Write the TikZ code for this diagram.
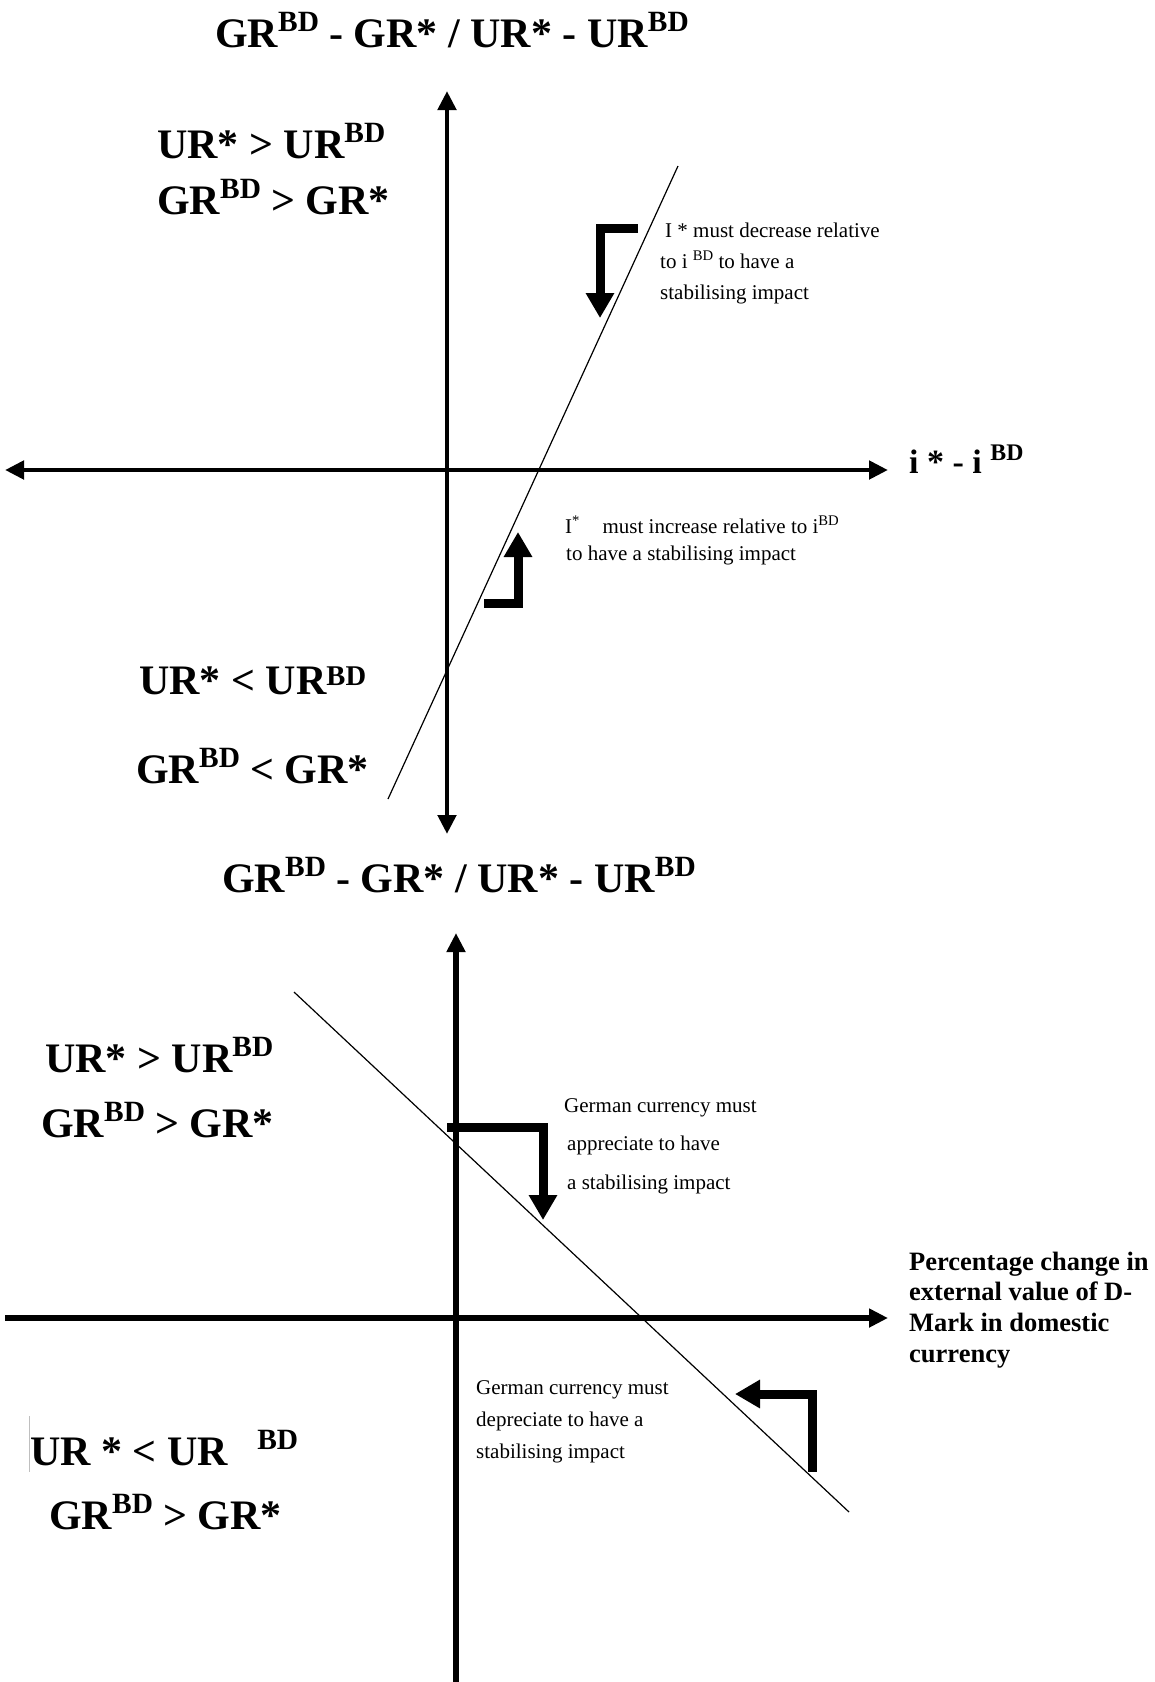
\documentclass[tikz,border=0pt]{standalone}
\usepackage{fontspec}
\setmainfont{Liberation Serif}
\usetikzlibrary{arrows.meta}
\newcommand\sups[1]{\raisebox{0.36em}{\scalebox{0.7}{#1}}}
\newcommand\supl[1]{\raisebox{0.2em}{\scalebox{0.68}{#1}}}
\begin{document}
\begin{tikzpicture}[x=1pt,y=-1pt,
  axis/.style={line width=4.8pt},
  axisb/.style={line width=6pt},
  axtip/.style={-{Triangle[length=19pt,width=18pt]}},
  axtips/.style={{Triangle[length=19pt,width=18pt]}-{Triangle[length=19pt,width=18pt]}},
  curve/.style={line width=1.2pt},
  bent/.style={line width=9pt, line join=miter, -{Triangle[length=25pt,width=27pt]}},
  big/.style={font=\fontsize{42}{50}\selectfont\bfseries, inner sep=0pt, anchor=base west},
  small/.style={font=\fontsize{21}{25}\selectfont, inner sep=0pt, anchor=base west},
  lab/.style={font=\fontsize{26.5}{31}\selectfont\bfseries, inner sep=0pt, anchor=base west},
]
\useasboundingbox[fill=white] (0,0) rectangle (1155,1682);

% ---------- top diagram ----------
\coordinate (vtop1) at (447,91);
\coordinate (vbot1) at (447,834);
\coordinate (hl1) at (5,470);
\coordinate (hr1) at (888,470);
\coordinate (c1a) at (388,799);
\coordinate (c1b) at (678,166);
\draw[axis, axtips] (vbot1) -- (vtop1);
\draw[axis, axtips] (hl1) -- (hr1);
\draw[curve] (c1a) -- (c1b);

\coordinate (a1s) at (638,228);
\coordinate (a1c) at (600,228);
\coordinate (a1e) at (600,318);
\draw[bent] (a1s) -- (a1c) -- (a1e);
\coordinate (a2s) at (484,603);
\coordinate (a2c) at (518,603);
\coordinate (a2e) at (518,532);
\draw[bent] (a2s) -- (a2c) -- (a2e);

\node[big, anchor=base] (title1) at (452,47) {GR\sups{BD} - GR* / UR* - UR\sups{BD}};
\node[big] (q1a) at (157,158) {UR* > UR\sups{BD}};
\node[big] (q1b) at (157,214) {GR\sups{BD} > GR*};
\node[big] (q3a) at (139,694) {UR* < UR\supl{BD}};
\node[big] (q3b) at (136,783) {GR\sups{BD} < GR*};
\node[font=\fontsize{34}{38}\selectfont\bfseries, inner sep=0pt, anchor=base west] (xlab1) at (909,473) {i * - i \sups{BD}};

\node[small] (t1a) at (665,237) {I * must decrease relative};
\node[small] (t1b) at (660,268) {to i \sups{BD} to have a};
\node[small] (t1c) at (660,299) {stabilising impact};
\node[small] (t2a) at (565,533) {I\sups{*}\hspace{1.1em}must increase relative to i\sups{BD}};
\node[small] (t2b) at (566,560) {to have a stabilising impact};

% ---------- bottom diagram ----------
\coordinate (vtop2) at (456,933);
\coordinate (vbot2) at (456,1682);
\coordinate (hl2) at (5,1318);
\coordinate (hr2) at (888,1318);
\coordinate (c2a) at (294,992);
\coordinate (c2b) at (849,1512);
\draw[axisb, axtip] (vbot2) -- (vtop2);
\draw[axisb, axtip] (hl2) -- (hr2);
\draw[curve] (c2a) -- (c2b);

\coordinate (a3s) at (447,1127);
\coordinate (a3c) at (543,1127);
\coordinate (a3e) at (543,1220);
\draw[bent] (a3s) -- (a3c) -- (a3e);
\coordinate (a4s) at (812,1472);
\coordinate (a4c) at (812,1394);
\coordinate (a4e) at (735,1394);
\draw[bent] (a4s) -- (a4c) -- (a4e);

\node[big, anchor=base] (title2) at (459,892) {GR\sups{BD} - GR* / UR* - UR\sups{BD}};
\node[big] (q2a) at (45,1072) {UR* > UR\sups{BD}};
\node[big] (q2b) at (41,1137) {GR\sups{BD} > GR*};
\node[big] (q4a) at (30,1465) {UR * < UR\hspace{0.7em}\sups{BD}};
\node[big] (q4b) at (49,1529) {GR\sups{BD} > GR*};
\draw[gray!50, line width=1pt] (29,1416) -- (29,1472);

\node[small] (t3a) at (564,1112) {German currency must};
\node[small] (t3b) at (567,1150) {appreciate to have};
\node[small] (t3c) at (567,1189) {a stabilising impact};
\node[small] (t4a) at (476,1394) {German currency must};
\node[small] (t4b) at (476,1426) {depreciate to have a};
\node[small] (t4c) at (476,1458) {stabilising impact};

\node[lab] (x2a) at (909,1270) {Percentage change in};
\node[lab] (x2b) at (909,1300) {external value of D-};
\node[lab] (x2c) at (909,1331) {Mark in domestic};
\node[lab] (x2d) at (909,1362) {currency};
\end{tikzpicture}
\end{document}
